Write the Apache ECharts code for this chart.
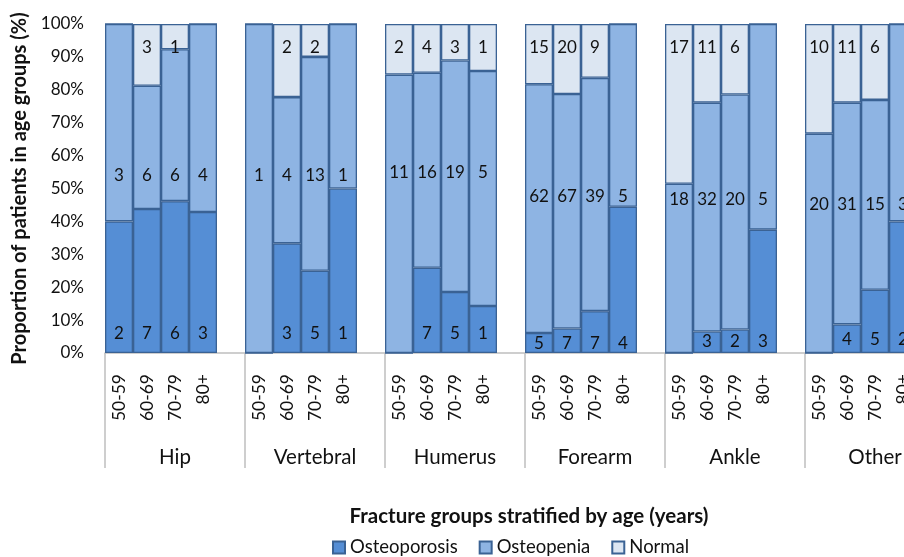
<!DOCTYPE html>
<html>
<head>
<meta charset="utf-8">
<script src="https://cdn.jsdelivr.net/npm/echarts@6/dist/echarts.min.js"></script>
<style>
  html, body { margin: 0; padding: 0; background: #fff; }
  #chart { width: 904px; height: 557px; }
</style>
</head>
<body>
<div id="chart"></div>
<script>
// Fracture groups and age bands
const groups = ['Hip', 'Vertebral', 'Humerus', 'Forearm', 'Ankle', 'Other'];
const ages = ['50-59', '60-69', '70-79', '80+'];

// Patient counts per group, four age bands each
const osteoporosis = [2, 7, 6, 3,   0, 3, 5, 1,   0, 7, 5, 1,   5, 7, 7, 4,   0, 3, 2, 3,   0, 4, 5, 2];
const osteopenia   = [3, 6, 6, 4,   1, 4, 13, 1,  11, 16, 19, 5, 62, 67, 39, 5, 18, 32, 20, 5, 20, 31, 15, 3];
const normal       = [0, 3, 1, 0,   0, 2, 2, 0,   2, 4, 3, 1,   15, 20, 9, 0, 17, 11, 6, 0,  10, 11, 6, 0];

const yTicks = ['0%', '10%', '20%', '30%', '40%', '50%', '60%', '70%', '80%', '90%', '100%'];

// Height (in %) at which each series' count labels sit, per group
const labelLevels = {
  Osteoporosis: [6, 6, 6, 3, 3.5, 4],
  Osteopenia: [54, 54, 55, 47.5, 46.5, 45],
  Normal: [92.8, 92.8, 92.8, 92.8, 92.8, 92.8]
};

const FONT = 'Lato, "Open Sans", sans-serif';

// One category per bar, plus an empty slot after each group
const categories = [];
const slotGroup = [];
groups.forEach((g, gi) => {
  ages.forEach(a => { categories.push(a); slotGroup.push(gi); });
  categories.push('');
  slotGroup.push(-1);
});

function buildSeriesData(counts) {
  const out = [];
  groups.forEach((g, gi) => {
    ages.forEach((a, ai) => {
      const i = gi * 4 + ai;
      const total = osteoporosis[i] + osteopenia[i] + normal[i];
      out.push({ value: total ? counts[i] / total * 100 : 0, count: counts[i] });
    });
    out.push('-');
  });
  return out;
}

const chart = echarts.init(document.getElementById('chart'), null, { renderer: 'canvas' });

function levelToPixel(level) {
  const p = chart.convertToPixel({ yAxisIndex: 0 }, level);
  return isFinite(p) ? p : 24 + 329 * (1 - level / 100);
}

function makeSeries(name, counts, color) {
  return {
    name: name,
    type: 'bar',
    stack: 'total',
    xAxisIndex: 0,
    barWidth: '100%',
    data: buildSeriesData(counts),
    itemStyle: { color: color, borderColor: '#3a6294', borderWidth: 1.3 },
    label: {
      show: true,
      position: 'inside',
      color: '#111',
      fontFamily: FONT,
      fontSize: 17,
      formatter: p => (p.data && p.data.count) ? String(p.data.count) : ''
    },
    labelLayout: function (params) {
      const gi = slotGroup[params.dataIndex];
      if (gi < 0) return {};
      const r = params.rect;
      return {
        x: r.x + r.width / 2,
        y: levelToPixel(labelLevels[name][gi]),
        align: 'center',
        verticalAlign: 'middle'
      };
    },
    emphasis: { disabled: true }
  };
}

const option = {
  animation: false,
  backgroundColor: '#fff',
  textStyle: { fontFamily: FONT },
  title: {
    text: 'Fracture groups stratified by age (years)',
    left: 524,
    top: 501,
    textAlign: 'center',
    textStyle: { fontFamily: FONT, fontSize: 20.5, fontWeight: 'bold', color: '#111' }
  },
  legend: {
    left: 332,
    top: 538,
    padding: 0,
    icon: 'rect',
    itemWidth: 12,
    itemHeight: 12,
    itemGap: 21,
    textStyle: { fontFamily: FONT, fontSize: 18.5, color: '#111' },
    data: ['Osteoporosis', 'Osteopenia', 'Normal']
  },
  grid: { left: 105, top: 24, width: 840, height: 329, outerBoundsMode: 'none', containLabel: false },
  xAxis: [
    {
      type: 'category',
      data: categories,
      axisLine: { show: true, lineStyle: { color: '#bfbfbf', width: 1.5 } },
      axisTick: { show: false },
      axisLabel: {
        interval: 0,
        rotate: 90,
        margin: 21,
        fontFamily: FONT,
        fontSize: 17.5,
        color: '#111'
      }
    },
    {
      type: 'category',
      position: 'bottom',
      data: groups,
      axisLine: { show: false },
      axisTick: { show: true, length: 115, lineStyle: { color: '#bfbfbf', width: 1.5 } },
      axisLabel: {
        interval: 0,
        margin: 94,
        fontFamily: FONT,
        fontSize: 20.5,
        color: '#111'
      }
    }
  ],
  yAxis: {
    type: 'value',
    min: 0,
    max: 100,
    interval: 10,
    name: 'Proportion of patients in age groups (%)',
    nameLocation: 'middle',
    nameGap: 75,
    nameTextStyle: { fontFamily: FONT, fontSize: 20, fontWeight: 'bold', color: '#111' },
    axisLine: { show: false },
    axisTick: { show: false },
    splitLine: { show: false },
    axisLabel: {
      margin: 21,
      fontFamily: FONT,
      fontSize: 17,
      color: '#111',
      formatter: v => yTicks[Math.round(v / 10)]
    }
  },
  series: [
    makeSeries('Osteoporosis', osteoporosis, '#558ed5'),
    makeSeries('Osteopenia', osteopenia, '#8eb4e3'),
    makeSeries('Normal', normal, '#dce6f2')
  ]
};

chart.setOption(option);
</script>
</body>
</html>
